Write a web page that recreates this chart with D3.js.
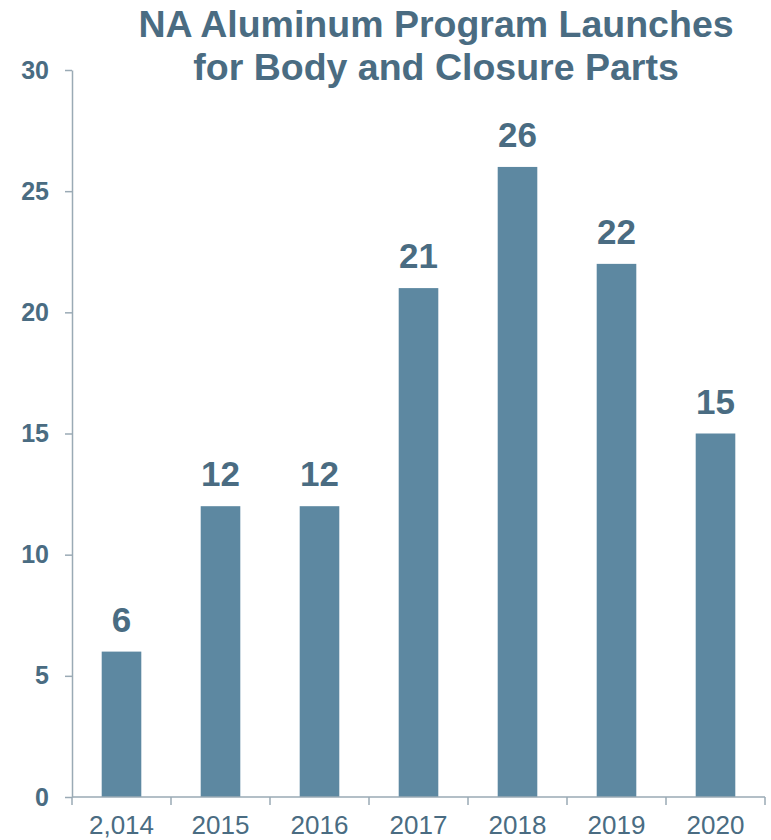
<!DOCTYPE html>
<html>
<head>
<meta charset="utf-8">
<script src="https://cdn.jsdelivr.net/npm/d3@7"></script>
<style>
  html, body { margin: 0; padding: 0; background: #fff; }
  svg { display: block; font-family: "Liberation Sans", Arial, sans-serif; }
</style>
</head>
<body>
<svg id="chart" width="771" height="840"></svg>
<script>
// Program launches per year
const categories = ["2,014", "2015", "2016", "2017", "2018", "2019", "2020"];
const launches = [6, 12, 12, 21, 26, 22, 15];
const yTicks = [0, 5, 10, 15, 20, 25, 30];
const titleLines = ["NA Aluminum Program Launches", "for Body and Closure Parts"];

const fontFamily = "'Liberation Sans', Arial, sans-serif";
const textColor = "#4a6c82";
const barColor = "#5d88a1";
const axisColor = "#9aaab5";

const svg = d3.select("#chart");
const margin = { left: 72, right: 6, top: 70, bottom: 43 };
const width = 771, height = 840;

const x = d3.scaleBand()
  .domain(categories)
  .range([margin.left, width - margin.right])
  .paddingInner(0.6)
  .paddingOuter(0.3);

const y = d3.scaleLinear()
  .domain([0, 30])
  .range([height - margin.bottom, margin.top]);

// Bars
svg.append("g")
  .selectAll("rect")
  .data(launches)
  .join("rect")
  .attr("x", (d, i) => x(categories[i]))
  .attr("y", d => y(d))
  .attr("width", x.bandwidth())
  .attr("height", d => y(0) - y(d))
  .attr("fill", barColor);

// Value labels
svg.append("g")
  .selectAll("text")
  .data(launches)
  .join("text")
  .attr("x", (d, i) => x(categories[i]) + x.bandwidth() / 2)
  .attr("y", d => y(d) - 20)
  .attr("text-anchor", "middle")
  .attr("font-size", 35)
  .attr("font-weight", "bold")
  .attr("fill", textColor)
  .text(d => d);

// Y axis
const yAxis = svg.append("g")
  .attr("transform", `translate(${margin.left},0)`)
  .call(d3.axisLeft(y).tickValues(yTicks).tickSize(7).tickPadding(16).tickSizeOuter(0));
yAxis.select(".domain").attr("stroke", axisColor).attr("stroke-width", 1.5);
yAxis.selectAll(".tick line").attr("stroke", axisColor).attr("stroke-width", 1.5);
yAxis.selectAll(".tick text")
  .attr("font-size", 25)
  .attr("font-weight", "bold")
  .attr("fill", textColor)
  .attr("font-family", fontFamily);

// X axis with ticks at band boundaries
const xAxisG = svg.append("g")
  .attr("transform", `translate(0,${y(0)})`);
xAxisG.append("line")
  .attr("x1", margin.left).attr("x2", width - margin.right)
  .attr("stroke", axisColor).attr("stroke-width", 1.5);
const boundaries = d3.range(categories.length + 1)
  .map(i => margin.left + i * (width - margin.right - margin.left) / categories.length);
xAxisG.selectAll("line.tick")
  .data(boundaries)
  .join("line")
  .attr("class", "tick")
  .attr("x1", d => d).attr("x2", d => d)
  .attr("y1", 0).attr("y2", 8)
  .attr("stroke", axisColor).attr("stroke-width", 1.5);
xAxisG.selectAll("text")
  .data(categories)
  .join("text")
  .attr("x", d => x(d) + x.bandwidth() / 2)
  .attr("y", 37)
  .attr("text-anchor", "middle")
  .attr("font-size", 26)
  .attr("fill", textColor)
  .text(d => d);

// Title
svg.append("text")
  .attr("x", 436)
  .attr("y", 37)
  .attr("text-anchor", "middle")
  .attr("font-size", 37.5)
  .attr("font-weight", "bold")
  .attr("fill", textColor)
  .selectAll("tspan")
  .data(titleLines)
  .join("tspan")
  .attr("x", 436)
  .attr("dy", (d, i) => i === 0 ? 0 : 43)
  .text(d => d);
</script>
</body>
</html>
